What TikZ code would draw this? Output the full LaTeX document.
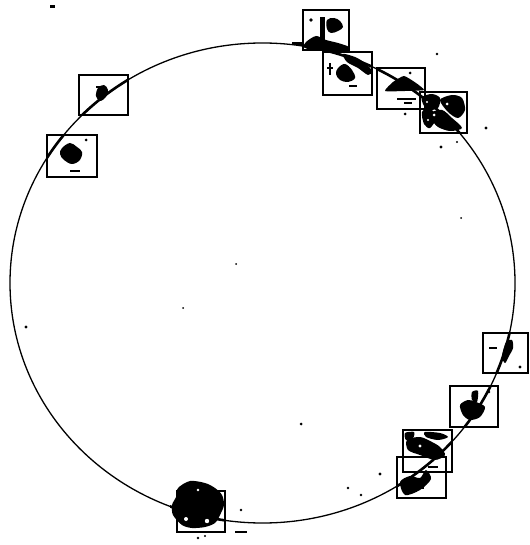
\documentclass[tikz,border=0pt]{standalone}
\begin{document}
\begin{tikzpicture}[x=1pt,y=-1pt,
  ring/.style={line width=1.3pt},
  frame/.style={line width=1.5pt},
  blob/.style={fill=black},
  dot/.style={fill=black}]
\useasboundingbox (0,0) rectangle (529,545);
\fill[white] (0,0) rectangle (529,545);
% main circle
\draw[ring] (262.5,283) ellipse [x radius=252.5pt, y radius=240pt];
% heavier trace of the circle inside the frames
\begin{scope}
\clip (303,10) rectangle (349,50) (323,52) rectangle (372,95) (377,68) rectangle (425,109)
      (420,92) rectangle (467,133) (79,75) rectangle (128,115) (47,135) rectangle (97,177)
      (483,333) rectangle (528,373) (450,386) rectangle (498,427) (403,430) rectangle (452,472)
      (397,457) rectangle (446,498) (170,485) rectangle (225,532);
\draw[line width=2.6pt] (262.5,283) ellipse [x radius=252.5pt, y radius=240pt];
\end{scope}
% frames
\draw[frame] (303,10) rectangle (349,50);
\draw[frame] (323,52) rectangle (372,95);
\draw[frame] (377,68) rectangle (425,109);
\draw[frame] (420,92) rectangle (467,133);
\draw[frame] (79,75) rectangle (128,115);
\draw[frame] (47,135) rectangle (97,177);
\draw[frame] (483,333) rectangle (528,373);
\draw[frame] (450,386) rectangle (498,427);
\draw[frame] (403,430) rectangle (452,472);
\draw[frame] (397,457) rectangle (446,498);
\draw[frame] (177,491) rectangle (225,532);
% box 1
\fill[blob] (320,17) rectangle (325,44);
\fill[blob] plot[smooth cycle,tension=0.6] coordinates {(327,20)(334,18)(340,21)(343,27)(338,31)(331,33)(327,29)};
\fill[dot] (311,20) circle (1.8pt);
\fill[blob] plot[smooth cycle,tension=0.5] coordinates {(306,42)(316,36)(326,40)(338,43)(349,47)(348,52)(330,50)(312,50)(304,47)};
\fill[blob] (292,42) rectangle (304,45);
% box 2
\fill[blob] plot[smooth cycle,tension=0.5] coordinates {(343,54)(355,57)(365,63)(372,71)(368,75)(358,68)(347,62)};
\fill[blob] plot[smooth cycle,tension=0.6] coordinates {(338,68)(345,64)(352,70)(355,78)(348,82)(340,80)(336,74)};
\draw[line width=1.2pt] (330,63) -- (330,75) (327,68) -- (333,68);
\draw[line width=1.2pt] (349,86) -- (357,86);
% box 3
\fill[blob] plot[smooth cycle,tension=0.3] coordinates {(385,91)(393,82)(404,76)(416,83)(424,90)(405,91)};
\fill[dot] (410,73) circle (1.5pt);
\draw[line width=1.5pt] (397,99) -- (416,99);
\draw[line width=1.2pt] (404,103) -- (412,103);
% box 4
\fill[blob] plot[smooth cycle,tension=0.5] coordinates {(422,97)(432,94)(440,98)(438,108)(428,110)(423,104)};
\fill[blob] plot[smooth cycle,tension=0.5] coordinates {(440,100)(452,95)(462,98)(465,110)(458,118)(448,112)};
\fill[blob] plot[smooth cycle,tension=0.5] coordinates {(430,113)(442,110)(452,118)(462,128)(450,131)(438,127)(432,120)};
\fill[blob] plot[smooth cycle,tension=0.5] coordinates {(422,112)(430,108)(436,118)(430,128)(424,124)};
\fill[white] (434,115) circle (1.5pt) (447,104) circle (1.5pt) (427,102) circle (1.2pt) (428,120) circle (1.2pt);
% left A
\fill[blob] plot[smooth cycle,tension=0.6] coordinates {(98,88)(104,85)(108,90)(106,97)(100,101)(96,96)};
\draw[line width=1.5pt] (96,87) -- (104,87);
% left B
\fill[blob] plot[smooth cycle,tension=0.6] coordinates {(62,148)(70,143)(77,147)(82,152)(80,160)(72,164)(64,160)(60,154)};
\fill[dot] (86,140) circle (1.5pt);
\draw[line width=1.5pt] (70,171) -- (80,171);
% R1
\fill[blob] plot[smooth cycle,tension=0.5] coordinates {(506,342)(512,340)(513,348)(509,356)(505,363)(502,356)};
\draw[line width=1.8pt] (489,348) -- (497,348);
\fill[dot] (520,367) circle (1.6pt);
% R2
\fill[blob] plot[smooth cycle,tension=0.5] coordinates {(460,405)(468,400)(476,402)(485,407)(480,417)(470,420)(463,415)};
\fill[blob] plot[smooth cycle,tension=0.5] coordinates {(472,392)(478,391)(477,402)(472,400)};
\fill[dot] (489,392) circle (1.4pt);
% R3
\fill[blob] plot[smooth cycle,tension=0.5] coordinates {(407,440)(420,437)(432,442)(440,447)(445,455)(435,460)(420,455)(408,450)};
\fill[blob] plot[smooth cycle,tension=0.5] coordinates {(425,432)(440,433)(448,437)(438,440)(426,437)};
\fill[blob] plot[smooth cycle,tension=0.5] coordinates {(405,433)(414,432)(413,438)(406,440)};
\fill[white] (420,446) circle (1.6pt);
% R4
\fill[blob] plot[smooth cycle,tension=0.5] coordinates {(400,482)(410,476)(420,478)(426,470)(431,479)(420,490)(405,495)};
\draw[line width=1.5pt] (428,467) -- (438,467);
\draw[line width=1.5pt] (418,488) -- (424,488);
% bottom cluster
\fill[blob] plot[smooth cycle,tension=0.5] coordinates {(178,488)(190,481)(205,483)(215,488)(222,495)(224,505)(220,515)(215,523)(205,527)(192,528)(182,525)(173,515)(172,505)(176,497)};
\fill[white] (186,519) circle (2pt) (207,521) circle (2.2pt) (198,490) circle (1.3pt);
\fill[dot] (198,538) circle (1.3pt) (205,536) circle (1.1pt);
% scattered dots
\fill[dot] (50,5) rectangle (55,8);
\fill[dot] (26,327) circle (1.6pt);
\fill[dot] (301,424) circle (1.5pt);
\fill[dot] (380,474) circle (1.6pt);
\fill[dot] (348,488) circle (1.3pt);
\fill[dot] (361,495) circle (1.3pt);
\fill[dot] (461,218) circle (1pt);
\fill[dot] (437,54) circle (1.4pt);
\fill[dot] (405,114) circle (1.5pt);
\fill[dot] (486,128) circle (1.6pt);
\fill[dot] (441,147) circle (1.6pt);
\fill[dot] (457,142) circle (1.1pt);
\fill[dot] (241,510) circle (1.4pt);
\draw[line width=1.6pt] (235,532) -- (247,532);
\fill[dot] (183,308) circle (1pt);
\fill[dot] (236,264) circle (1pt);
\end{tikzpicture}
\end{document}
